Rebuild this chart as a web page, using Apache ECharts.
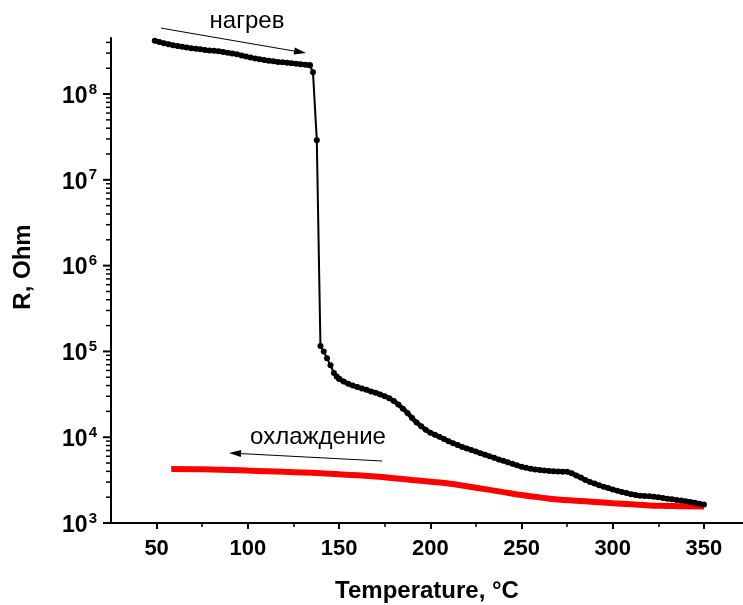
<!DOCTYPE html>
<html>
<head>
<meta charset="utf-8">
<script src="https://cdn.jsdelivr.net/npm/echarts@6/dist/echarts.min.js"></script>
<style>
html, body { margin: 0; padding: 0; background: #fff; }
#chart { width: 743px; height: 605px; }
</style>
</head>
<body>
<div id="chart"></div>
<script>
// нагрев: температура, °C и сопротивление, Ohm (верхний участок)
var heatTopT = [49, 51.5, 54, 56.5, 59, 61.5, 64, 66.5, 69, 71.5, 74, 76.5, 79, 81.5, 84, 86.5, 89, 91.5, 94, 96.5,
    99, 101.5, 104, 106.5, 109, 111.5, 114, 116.5, 119, 121.5, 124, 126.5, 129, 131.5, 134];
var heatTopR = [4.18e8, 4.05e8, 3.92e8, 3.80e8, 3.70e8, 3.62e8, 3.55e8, 3.48e8, 3.42e8, 3.37e8, 3.32e8, 3.27e8, 3.22e8, 3.19e8, 3.16e8, 3.10e8, 3.03e8, 2.97e8, 2.90e8, 2.82e8,
    2.74e8, 2.66e8, 2.60e8, 2.54e8, 2.49e8, 2.45e8, 2.41e8, 2.37e8, 2.34e8, 2.32e8, 2.29e8, 2.26e8, 2.23e8, 2.20e8, 2.17e8];
// скачок
var heatDropT = [134, 135.7, 137.8, 139.8, 141.6, 143.4, 145.3, 147.2, 148.7, 150];
var heatDropR = [2.17e8, 1.8e8, 2.9e7, 1.16e5, 1.0e5, 8.3e4, 6.9e4, 5.6e4, 5.1e4, 4.8e4];
// нижний участок
var heatLowT = [150, 152.5, 155, 157.5, 160, 162.5, 165, 167.5, 170, 172.5, 175, 177.5, 180, 182.5, 185, 187.5, 190, 192.5, 195, 197.5,
    200, 202.5, 205, 207.5, 210, 212.5, 215, 217.5, 220, 222.5, 225, 227.5, 230, 232.5, 235, 237.5, 240, 242.5, 245, 247.5,
    250, 252.5, 255, 257.5, 260, 262.5, 265, 267.5, 270, 272.5, 275, 277.5, 280, 282.5, 285, 287.5, 290, 292.5, 295, 297.5,
    300, 302.5, 305, 307.5, 310, 312.5, 315, 317.5, 320, 322.5, 325, 327.5, 330, 332.5, 335, 337.5, 340, 342.5, 345, 347.5, 350];
var heatLowR = [4.8e4, 4.45e4, 4.2e4, 4.0e4, 3.85e4, 3.7e4, 3.57e4, 3.42e4, 3.3e4, 3.15e4, 3.0e4, 2.84e4, 2.65e4, 2.4e4, 2.15e4, 1.92e4, 1.68e4, 1.48e4, 1.34e4, 1.22e4,
    1.13e4, 1.07e4, 1.01e4, 9.5e3, 9.0e3, 8.5e3, 8.1e3, 7.7e3, 7.4e3, 7.1e3, 6.8e3, 6.5e3, 6.25e3, 6.0e3, 5.75e3, 5.5e3, 5.3e3, 5.1e3, 4.9e3, 4.7e3,
    4.52e3, 4.4e3, 4.3e3, 4.2e3, 4.15e3, 4.1e3, 4.05e3, 4.0e3, 3.98e3, 3.96e3, 3.95e3, 3.8e3, 3.58e3, 3.38e3, 3.18e3, 3.0e3, 2.88e3, 2.75e3, 2.65e3, 2.55e3,
    2.46e3, 2.38e3, 2.3e3, 2.23e3, 2.17e3, 2.12e3, 2.08e3, 2.06e3, 2.05e3, 2.02e3, 1.99e3, 1.96e3, 1.92e3, 1.89e3, 1.86e3, 1.83e3, 1.79e3, 1.76e3, 1.72e3, 1.68e3, 1.64e3];

// охлаждение
var coolT = [58, 70, 80, 90, 100, 110, 120, 130, 140, 150, 160, 170, 180, 190, 200, 210, 220, 230, 240, 250,
    260, 270, 280, 290, 300, 310, 320, 330, 340, 350];
var coolR = [4250, 4230, 4200, 4150, 4080, 4020, 3950, 3880, 3800, 3700, 3600, 3480, 3330, 3170, 3030, 2880, 2680, 2480, 2290, 2120,
    1990, 1880, 1820, 1760, 1700, 1650, 1600, 1580, 1565, 1560];

var xMajor = [50, 100, 150, 200, 250, 300, 350];
var xMinor = [75, 125, 175, 225, 275, 325];
var yMajor = [1e3, 1e4, 1e5, 1e6, 1e7, 1e8];
var xMin = 25, xMax = 371.4;
var yMin = 1e3, yMax = 4.5e8;

// промежуточные деления лог-шкалы (2..9 x 10^n)
var yMinor = [];
for (var n = 3; n <= 8; n++) {
    for (var k = 2; k <= 9; k++) {
        if (k * Math.pow(10, n) <= yMax) yMinor.push(k * Math.pow(10, n));
    }
}

var F = '"Liberation Sans", Arial, sans-serif';

function pairs(xs, ys) {
    return xs.map(function (x, i) { return [x, ys[i]]; });
}

var chart = echarts.init(document.getElementById('chart'));

var xBase = {
    type: 'value', min: xMin, max: xMax, gridIndex: 0, position: 'bottom',
    splitLine: { show: false }
};

function heatSeries(name, xs, ys, width) {
    return {
        name: name, type: 'line', xAxisIndex: 0, yAxisIndex: 0,
        data: pairs(xs, ys), symbol: 'circle', symbolSize: 6, showSymbol: true,
        itemStyle: { color: '#000' },
        lineStyle: { color: '#000', width: width }, z: 3
    };
}

chart.setOption({
    animation: false,
    backgroundColor: '#fff',
    grid: { left: 111, top: 38, width: 632, height: 485, containLabel: false, outerBoundsMode: 'none' },
    xAxis: [
        Object.assign({}, xBase, {
            axisLine: { show: true, lineStyle: { color: '#000', width: 2 } },
            axisTick: { show: true, customValues: xMajor, length: 6, lineStyle: { color: '#000', width: 2 } },
            axisLabel: {
                customValues: xMajor, margin: 15, color: '#000',
                fontSize: 22, fontWeight: 'bold', fontFamily: F
            },
            name: 'Temperature, °C', nameLocation: 'middle', nameGap: 56,
            nameTextStyle: { fontSize: 24, fontWeight: 'bold', fontFamily: F, color: '#000' }
        }),
        Object.assign({}, xBase, {
            axisLine: { show: false },
            axisTick: { show: true, customValues: xMinor, length: 4, lineStyle: { color: '#000', width: 1.5 } },
            axisLabel: { show: false }
        })
    ],
    yAxis: {
        type: 'log', logBase: 10, min: yMin, max: yMax, gridIndex: 0, position: 'left',
        splitLine: { show: false }, minorSplitLine: { show: false },
        axisLine: { show: true, lineStyle: { color: '#000', width: 2 } },
        axisTick: { show: false },
        axisLabel: {
            customValues: yMajor, margin: 14, padding: [5, 0, 0, 0],
            formatter: function (v) {
                return '{b|10}{s|' + Math.round(Math.log10(v)) + '}';
            },
            rich: {
                b: { fontSize: 23, fontWeight: 'bold', fontFamily: F, color: '#000' },
                s: { fontSize: 15, fontWeight: 'bold', fontFamily: F, color: '#000', padding: [0, 0, 14, 1] }
            }
        }
    },
    series: [
        {
            name: 'охлаждение', type: 'line', xAxisIndex: 0, yAxisIndex: 0,
            data: pairs(coolT, coolR), smooth: true, showSymbol: false,
            lineStyle: { color: '#ff0000', width: 6 }, z: 2
        },
        heatSeries('нагрев', heatTopT, heatTopR, 4.5),
        heatSeries('нагрев-скачок', heatDropT, heatDropR, 2),
        heatSeries('нагрев-низ', heatLowT, heatLowR, 4.5)
    ]
});

// стрелки подписей
function arrow(a, b) {
    var p0 = chart.convertToPixel({ gridIndex: 0 }, a);
    var p1 = chart.convertToPixel({ gridIndex: 0 }, b);
    var dx = p1[0] - p0[0], dy = p1[1] - p0[1];
    var len = Math.sqrt(dx * dx + dy * dy), ux = dx / len, uy = dy / len;
    var bx = p1[0] - ux * 12, by = p1[1] - uy * 12;
    return [
        { type: 'line', shape: { x1: p0[0], y1: p0[1], x2: bx, y2: by }, style: { stroke: '#000', lineWidth: 1 } },
        { type: 'polygon', shape: { points: [[p1[0], p1[1]], [bx - uy * 3.5, by + ux * 3.5], [bx + uy * 3.5, by - ux * 3.5]] }, style: { fill: '#000' } }
    ];
}

var graphics = []
    .concat(arrow([52.4, 5.87e8], [131.9, 3.0e8]))
    .concat(arrow([173.6, 5.28e3], [89.7, 6.55e3]));

// деления лог-оси по шкале графика
function yTick(v, len, w) {
    var p = chart.convertToPixel({ gridIndex: 0 }, [xMin, v]);
    graphics.push({
        type: 'line', z: 100,
        shape: { x1: p[0] - len, y1: p[1], x2: p[0], y2: p[1] },
        style: { stroke: '#000', lineWidth: w }
    });
}
yMajor.forEach(function (v) { yTick(v, 8, 2); });
yMinor.forEach(function (v) { yTick(v, 5, 1.5); });

graphics.push(
    { type: 'text', x: 247, y: 21, style: { text: 'нагрев', fontSize: 24, fontFamily: F, fill: '#000', align: 'center', verticalAlign: 'middle' } },
    { type: 'text', x: 318, y: 437, style: { text: 'охлаждение', fontSize: 24, fontFamily: F, fill: '#000', align: 'center', verticalAlign: 'middle' } },
    { type: 'text', x: 23, y: 267, rotation: Math.PI / 2, style: { text: 'R, Ohm', fontSize: 24, fontWeight: 'bold', fontFamily: F, fill: '#000', align: 'center', verticalAlign: 'middle' } }
);

chart.setOption({ graphic: graphics });
</script>
</body>
</html>
